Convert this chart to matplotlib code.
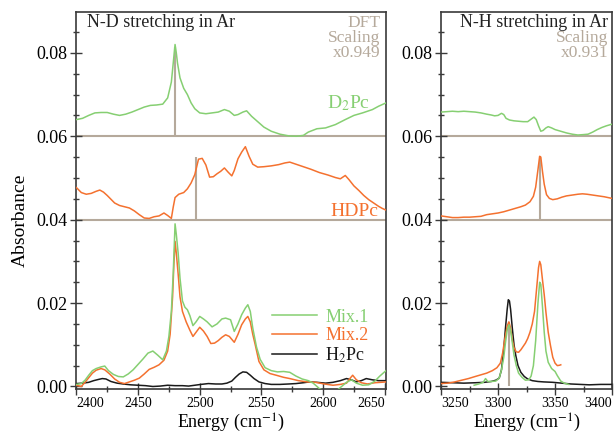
import matplotlib
matplotlib.use('Agg')
import matplotlib.pyplot as plt

plt.rcParams['font.family'] = ['Liberation Serif', 'DejaVu Serif']
plt.rcParams['mathtext.fontset'] = 'stix'

GREEN = '#86cf72'
ORANGE = '#f4712f'
BLACK = '#1a1a1a'
GREY = '#b5a99b'

# ---- N-D stretching region ----
# D2Pc (offset trace, top)
nd_d2pc_x = [2400, 2405, 2410, 2415, 2420, 2425, 2430, 2435, 2440, 2445, 2450, 2455, 2460, 2465,
             2470, 2474, 2477, 2479, 2480, 2481, 2482, 2484, 2487, 2490, 2493, 2496, 2500, 2505,
             2510, 2515, 2520, 2524, 2528, 2531, 2535, 2538, 2542, 2547, 2552, 2558, 2565, 2572,
             2578, 2584, 2588, 2595, 2602, 2610, 2618, 2625, 2632, 2640, 2645, 2651]
nd_d2pc_y = [0.0640, 0.0643, 0.0650, 0.0656, 0.0657, 0.0657, 0.0653, 0.0650, 0.0653, 0.0658,
             0.0664, 0.0670, 0.0674, 0.0675, 0.0677, 0.0692, 0.0730, 0.0790, 0.0820, 0.0800,
             0.0775, 0.0740, 0.0715, 0.0700, 0.0680, 0.0666, 0.0656, 0.0654, 0.0656, 0.0658,
             0.0664, 0.0660, 0.0650, 0.0652, 0.0658, 0.0661, 0.0648, 0.0635, 0.0622, 0.0612,
             0.0605, 0.0601, 0.0600, 0.0602, 0.0610, 0.0618, 0.0620, 0.0628, 0.0640, 0.0650,
             0.0656, 0.0664, 0.0672, 0.0680]

# HDPc (offset trace, middle)
nd_hdpc_x = [2400, 2404, 2408, 2412, 2416, 2419, 2422, 2425, 2428, 2431, 2435, 2439, 2443, 2447,
             2451, 2455, 2459, 2463, 2467, 2471, 2474, 2477, 2478.5, 2480, 2483, 2487, 2490, 2493,
             2496, 2499, 2502, 2505, 2508, 2511, 2514, 2517, 2520, 2523, 2526, 2528, 2531, 2534,
             2537, 2540, 2543, 2547, 2552, 2558, 2564, 2569, 2573, 2578, 2584, 2590, 2597, 2604,
             2610, 2614, 2618, 2621, 2625, 2629, 2633, 2637, 2641, 2645, 2648, 2651]
nd_hdpc_y = [0.0477, 0.0465, 0.0461, 0.0463, 0.0468, 0.0471, 0.0466, 0.0458, 0.0449, 0.0440,
             0.0434, 0.0431, 0.0428, 0.0421, 0.0412, 0.0404, 0.0403, 0.0407, 0.0409, 0.0416,
             0.0410, 0.0403, 0.0430, 0.0453, 0.0461, 0.0465, 0.0474, 0.0488, 0.0508, 0.0545,
             0.0547, 0.0531, 0.0502, 0.0503, 0.0510, 0.0516, 0.0524, 0.0514, 0.0505, 0.0518,
             0.0546, 0.0562, 0.0575, 0.0552, 0.0533, 0.0526, 0.0527, 0.0529, 0.0532, 0.0536,
             0.0538, 0.0533, 0.0527, 0.0521, 0.0513, 0.0507, 0.0501, 0.0498, 0.0506, 0.0496,
             0.0481, 0.0470, 0.0458, 0.0448, 0.0440, 0.0432, 0.0427, 0.0423]

# Mixtures and H2Pc (bottom)
nd_mix1_x = [2400, 2404, 2407, 2410, 2413, 2416, 2420, 2423, 2426, 2430, 2434, 2438, 2442, 2446,
             2450, 2454, 2458, 2462, 2466, 2470, 2473, 2475, 2477, 2478.5, 2480, 2481, 2482.5, 2484,
             2486, 2488, 2490, 2492, 2494.5, 2497, 2500, 2503, 2506, 2510, 2514, 2518, 2521, 2525,
             2528, 2531, 2534, 2537, 2539, 2541, 2543, 2546, 2549, 2553, 2558, 2563, 2568, 2573,
             2578, 2583, 2588, 2592, 2597, 2602, 2607, 2611, 2615, 2619, 2623, 2627, 2632, 2637,
             2642, 2646, 2651]
nd_mix1_y = [0.0005, 0.0007, 0.0015, 0.0027, 0.0038, 0.0043, 0.0047, 0.0049, 0.0038, 0.0029,
             0.0024, 0.0023, 0.0030, 0.0040, 0.0053, 0.0066, 0.0080, 0.0085, 0.0075, 0.0064,
             0.0085, 0.0120, 0.0180, 0.0270, 0.0390, 0.0365, 0.0320, 0.0260, 0.0205, 0.0190,
             0.0184, 0.0170, 0.0146, 0.0155, 0.0168, 0.0162, 0.0155, 0.0143, 0.0150, 0.0162,
             0.0164, 0.0160, 0.0132, 0.0150, 0.0172, 0.0188, 0.0196, 0.0180, 0.0140, 0.0095,
             0.0065, 0.0045, 0.0038, 0.0035, 0.0036, 0.0034, 0.0025, 0.0018, 0.0014, 0.0008,
             -0.0005, -0.0012, -0.0014, -0.0010, 0.0000, 0.0010, 0.0016, 0.0008, 0.0003, 0.0004,
             0.0013, 0.0025, 0.0038]

nd_mix2_x = [2400, 2404, 2407, 2410, 2413, 2416, 2420, 2423, 2427, 2431, 2435, 2439, 2443, 2447,
             2451, 2455, 2459, 2463, 2467, 2471, 2474, 2476, 2478, 2479, 2480, 2481, 2482.5, 2484,
             2486, 2489, 2492, 2494.5, 2497, 2500, 2503, 2506, 2509, 2512, 2515, 2518, 2521, 2524,
             2528, 2531, 2534, 2537, 2539, 2541, 2543, 2545, 2548, 2552, 2557, 2562, 2568, 2573,
             2580, 2587, 2594, 2601, 2608, 2614, 2619, 2622, 2624, 2627, 2631, 2636, 2642, 2647,
             2651]
nd_mix2_y = [0.0003, 0.0000, 0.0010, 0.0021, 0.0032, 0.0039, 0.0043, 0.0040, 0.0030, 0.0018,
             0.0010, 0.0007, 0.0011, 0.0015, 0.0020, 0.0030, 0.0041, 0.0046, 0.0052, 0.0063,
             0.0085, 0.0125, 0.0215, 0.0290, 0.0348, 0.0320, 0.0270, 0.0215, 0.0180, 0.0155,
             0.0135, 0.0120, 0.0130, 0.0142, 0.0133, 0.0120, 0.0103, 0.0104, 0.0110, 0.0118,
             0.0124, 0.0120, 0.0106, 0.0125, 0.0148, 0.0162, 0.0168, 0.0155, 0.0125, 0.0100,
             0.0060, 0.0040, 0.0031, 0.0027, 0.0022, 0.0019, 0.0014, 0.0011, 0.0010, 0.0006,
             0.0003, 0.0005, 0.0008, 0.0020, 0.0027, 0.0016, 0.0009, 0.0006, 0.0009, 0.0010,
             0.0011]

nd_h2pc_x = [2400, 2405, 2410, 2414, 2418, 2421, 2424, 2428, 2433, 2438, 2444, 2450, 2456, 2462,
             2468, 2474, 2480, 2486, 2491, 2496, 2501, 2507, 2513, 2518, 2522, 2526, 2529, 2532,
             2535, 2538, 2541, 2544, 2548, 2553, 2558, 2565, 2572, 2578, 2584, 2589, 2595, 2602,
             2608, 2614, 2619, 2623, 2627, 2631, 2635, 2640, 2645, 2651]
nd_h2pc_y = [0.0007, 0.0008, 0.0010, 0.0014, 0.0017, 0.0019, 0.0018, 0.0012, 0.0008, 0.0006,
             0.0004, 0.0003, 0.0002, 0.0000, 0.0001, 0.0003, 0.0002, 0.0002, 0.0001, 0.0003,
             0.0005, 0.0007, 0.0006, 0.0006, 0.0008, 0.0013, 0.0022, 0.0030, 0.0035, 0.0034,
             0.0027, 0.0019, 0.0011, 0.0007, 0.0005, 0.0005, 0.0006, 0.0007, 0.0009, 0.0011,
             0.0010, 0.0008, 0.0010, 0.0014, 0.0019, 0.0016, 0.0011, 0.0014, 0.0019, 0.0016,
             0.0014, 0.0014]

# DFT sticks (scaled frequency, stick base, stick top)
nd_dft_freq = [2480, 2497]
nd_dft_base = [0.060, 0.040]
nd_dft_top = [0.0815, 0.0550]

# ---- N-H stretching region ----
nh_d2pc_x = [3250, 3255, 3260, 3265, 3270, 3275, 3280, 3285, 3290, 3294, 3297, 3300, 3303, 3305,
             3307, 3310, 3314, 3318, 3322, 3326, 3329, 3331.5, 3333.5, 3335.5, 3337.5, 3339.5, 3342,
             3344, 3347, 3350, 3355, 3360, 3365, 3370, 3375, 3379, 3383, 3387, 3391, 3395, 3400]
nh_d2pc_y = [0.0658, 0.0659, 0.0660, 0.0659, 0.0660, 0.0659, 0.0658, 0.0656, 0.0653, 0.0651,
             0.0649, 0.0650, 0.0655, 0.0652, 0.0643, 0.0639, 0.0637, 0.0636, 0.0635, 0.0635,
             0.0641, 0.0646, 0.0640, 0.0625, 0.0612, 0.0614, 0.0620, 0.0623, 0.0620, 0.0616,
             0.0612, 0.0608, 0.0605, 0.0603, 0.0604, 0.0605, 0.0610, 0.0616, 0.0621, 0.0625,
             0.0629]

nh_hdpc_x = [3250, 3255, 3260, 3265, 3270, 3275, 3280, 3285, 3290, 3295, 3300, 3305, 3310, 3315,
             3320, 3324, 3328, 3331, 3333, 3335, 3336.5, 3337.5, 3339, 3340.5, 3342.5, 3345, 3348,
             3352, 3356, 3360, 3365, 3370, 3374, 3378, 3383, 3388, 3393, 3400]
nh_hdpc_y = [0.0409, 0.0407, 0.0405, 0.0405, 0.0406, 0.0406, 0.0407, 0.0408, 0.0412, 0.0414,
             0.0416, 0.0419, 0.0423, 0.0427, 0.0431, 0.0435, 0.0443, 0.0456, 0.0478, 0.0520,
             0.0552, 0.0550, 0.0515, 0.0485, 0.0460, 0.0451, 0.0448, 0.0450, 0.0454, 0.0457,
             0.0459, 0.0461, 0.0462, 0.0461, 0.0459, 0.0457, 0.0455, 0.0451]

nh_h2pc_x = [3250, 3260, 3270, 3280, 3288, 3294, 3298, 3301, 3303, 3305, 3306.5, 3308, 3309, 3310,
             3311, 3312.5, 3314, 3315.5, 3317.5, 3320, 3323, 3326, 3330, 3335, 3340, 3348, 3356,
             3364, 3372, 3380, 3390, 3400]
nh_h2pc_y = [0.0010, 0.0009, 0.0008, 0.0009, 0.0010, 0.0012, 0.0015, 0.0020, 0.0040, 0.0090,
             0.0140, 0.0185, 0.0208, 0.0205, 0.0185, 0.0140, 0.0100, 0.0075, 0.0050, 0.0034,
             0.0024, 0.0018, 0.0014, 0.0012, 0.0011, 0.0010, 0.0008, 0.0006, 0.0005, 0.0004,
             0.0005, 0.0005]

nh_mix2_x = [3250, 3256, 3262, 3268, 3274, 3280, 3285, 3290, 3295, 3299, 3302, 3304, 3306, 3308,
             3309.5, 3311, 3312.5, 3314, 3316, 3318, 3320, 3322, 3324, 3326, 3328, 3330, 3332, 3334,
             3335.5, 3336.5, 3337.5, 3339, 3340.5, 3342, 3344, 3346, 3348, 3350, 3352, 3354, 3355]
nh_mix2_y = [0.0007, 0.0008, 0.0011, 0.0015, 0.0019, 0.0024, 0.0028, 0.0032, 0.0038, 0.0045,
             0.0056, 0.0080, 0.0115, 0.0145, 0.0155, 0.0140, 0.0112, 0.0093, 0.0083, 0.0082,
             0.0088, 0.0096, 0.0104, 0.0115, 0.0130, 0.0150, 0.0180, 0.0240, 0.0285, 0.0300,
             0.0292, 0.0255, 0.0220, 0.0178, 0.0130, 0.0098, 0.0070, 0.0056, 0.0050, 0.0051,
             0.0052]

nh_mix1_x = [3279, 3283, 3287, 3289, 3291, 3294, 3298, 3301, 3303, 3305, 3306.5, 3308, 3309.5,
             3311, 3312.5, 3314, 3316, 3318, 3321, 3324, 3327, 3329, 3331, 3333, 3335, 3336.5,
             3337.5, 3339, 3340.5, 3342, 3344, 3347, 3350, 3352, 3355, 3358, 3362]
nh_mix1_y = [0.0003, 0.0006, 0.0010, 0.0019, 0.0012, 0.0012, 0.0013, 0.0020, 0.0040, 0.0070,
             0.0105, 0.0135, 0.0148, 0.0135, 0.0105, 0.0075, 0.0050, 0.0032, 0.0022, 0.0015,
             0.0016, 0.0025, 0.0050, 0.0110, 0.0200, 0.0250, 0.0245, 0.0190, 0.0130, 0.0085,
             0.0058, 0.0043, 0.0036, 0.0026, 0.0013, 0.0008, 0.0005]

nh_dft_freq = [3337, 3310]
nh_dft_base = [0.040, 0.0]
nh_dft_top = [0.0552, 0.0155]

YLIM = (-0.0006, 0.0898)
LW = 1.1

fig = plt.figure(figsize=(6.16, 4.34), dpi=100)
ax1 = fig.add_axes([0.124, 0.1037, 0.5026, 0.8687])
ax2 = fig.add_axes([0.716, 0.1037, 0.2776, 0.8687])


def style_axes(ax, xlim, xmajor, xminor):
    ax.set_xlim(*xlim)
    ax.set_ylim(*YLIM)
    ax.set_xticks(xmajor)
    ax.set_xticks(xminor, minor=True)
    ax.set_yticks([0.00, 0.02, 0.04, 0.06, 0.08])
    ax.set_yticklabels(['0.00', '0.02', '0.04', '0.06', '0.08'])
    ax.set_yticks([0.005, 0.01, 0.015, 0.025, 0.03, 0.035, 0.045, 0.05, 0.055,
                   0.065, 0.07, 0.075, 0.085], minor=True)
    for s in ax.spines.values():
        s.set_color('#3a3a3a')
        s.set_linewidth(1.2)
    ax.tick_params(which='both', direction='inout', color='#3a3a3a', width=1.0,
                   top=False, right=False)
    ax.tick_params(which='major', length=9)
    ax.tick_params(which='minor', length=5)
    ax.tick_params(axis='y', labelsize=13, pad=2)
    ax.tick_params(axis='x', labelsize=10, pad=1)
    labels = ax.get_xticklabels()
    labels[0].set_horizontalalignment('left')
    labels[-1].set_horizontalalignment('right')
    # panel separators between the offset traces
    ax.axhline(0.06, color=GREY, lw=1.5, zorder=1)
    ax.axhline(0.04, color=GREY, lw=1.5, zorder=1)
    ax.set_xlabel('Energy (cm$^{\\mathrm{-1}}$)', fontsize=13)
    ax.xaxis.set_label_coords(0.5, -0.06)


style_axes(ax1, (2400, 2651), [2400, 2450, 2500, 2550, 2600, 2650],
           [2425, 2475, 2525, 2575, 2625])
style_axes(ax2, (3250, 3400), [3250, 3300, 3350, 3400], [3275, 3325, 3375])

# N-D panel
ax1.vlines(nd_dft_freq, nd_dft_base, nd_dft_top, color=GREY, lw=1.5, zorder=2)
ax1.plot(nd_d2pc_x, nd_d2pc_y, color=GREEN, lw=LW, zorder=3)
ax1.plot(nd_hdpc_x, nd_hdpc_y, color=ORANGE, lw=LW, zorder=3)
ax1.plot(nd_h2pc_x, nd_h2pc_y, color=BLACK, lw=LW, zorder=3, label='H$_2$Pc')
ax1.plot(nd_mix2_x, nd_mix2_y, color=ORANGE, lw=LW, zorder=4, label='Mix.2')
ax1.plot(nd_mix1_x, nd_mix1_y, color=GREEN, lw=LW, zorder=4, label='Mix.1')

handles, labels = ax1.get_legend_handles_labels()
order = [2, 1, 0]
ax1.legend([handles[i] for i in order], [labels[i] for i in order],
           loc='lower left', bbox_to_anchor=(0.632, 0.064), frameon=False,
           fontsize=13, handlelength=2.5, handletextpad=0.45, labelspacing=0.08,
           borderpad=0, borderaxespad=0, labelcolor='linecolor')

ax1.text(0.034, 0.971, 'N-D stretching in Ar', transform=ax1.transAxes,
         fontsize=13, ha='left', va='center', color='#222222')
for yy, txt in zip([0.971, 0.931, 0.891], ['DFT', 'Scaling', 'x0.949']):
    ax1.text(0.981, yy, txt, transform=ax1.transAxes, fontsize=12.5,
             ha='right', va='center', color=GREY)
ax1.text(0.948, 0.759, 'D$_2$Pc', transform=ax1.transAxes, fontsize=14,
         ha='right', va='center', color=GREEN)
ax1.text(0.974, 0.472, 'HDPc', transform=ax1.transAxes, fontsize=14,
         ha='right', va='center', color=ORANGE)

# N-H panel
ax2.vlines(nh_dft_freq, nh_dft_base, nh_dft_top, color=GREY, lw=1.5, zorder=2)
ax2.plot(nh_d2pc_x, nh_d2pc_y, color=GREEN, lw=LW, zorder=3)
ax2.plot(nh_hdpc_x, nh_hdpc_y, color=ORANGE, lw=LW, zorder=3)
ax2.plot(nh_h2pc_x, nh_h2pc_y, color=BLACK, lw=LW, zorder=3)
ax2.plot(nh_mix2_x, nh_mix2_y, color=ORANGE, lw=LW, zorder=4)
ax2.plot(nh_mix1_x, nh_mix1_y, color=GREEN, lw=LW, zorder=4)

ax2.text(0.977, 0.971, 'N-H stretching in Ar', transform=ax2.transAxes,
         fontsize=13, ha='right', va='center', color='#222222')
for yy, txt in zip([0.931, 0.891], ['Scaling', 'x0.931']):
    ax2.text(0.977, yy, txt, transform=ax2.transAxes, fontsize=12.5,
             ha='right', va='center', color=GREY)

fig.text(0.0325, 0.493, 'Absorbance', rotation=90, fontsize=14,
         ha='center', va='center')

fig.savefig('out.png', dpi=100)
